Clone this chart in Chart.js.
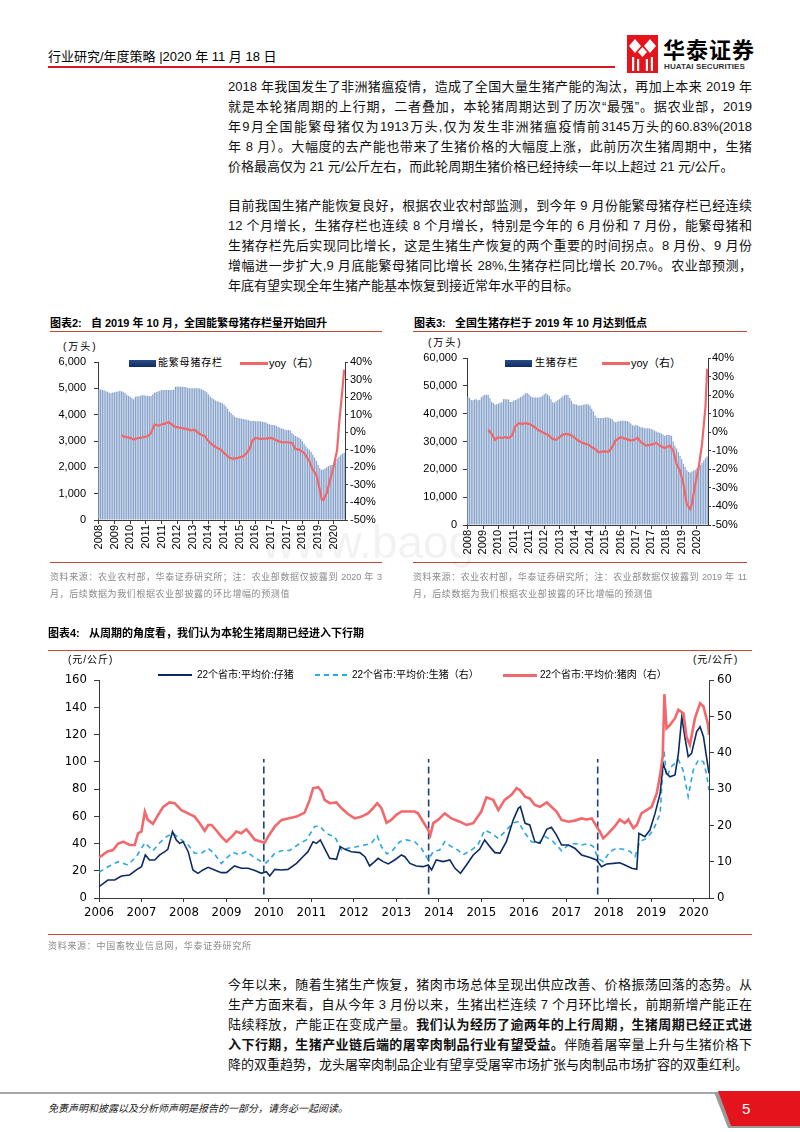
<!DOCTYPE html>
<html><head><meta charset="utf-8">
<script src="https://cdn.jsdelivr.net/npm/chart.js@4/dist/chart.umd.min.js"></script>
<style>
body{margin:0;background:#fff;}
#page{position:relative;width:800px;height:1132px;overflow:hidden;background:#fff;font-family:"Liberation Sans","Noto Sans CJK SC",sans-serif;color:#000;}
.a{position:absolute;white-space:nowrap;}
.ln{position:absolute;left:228px;width:524px;height:20px;line-height:20px;font-size:13px;font-family:"Liberation Sans","Noto Sans CJK SC",sans-serif;text-align:justify;text-align-last:justify;color:#111;}
.ln.last{text-align-last:left;}
.ttl{position:absolute;font-size:11px;font-weight:bold;line-height:14px;font-family:"Liberation Sans","Noto Sans CJK SC",sans-serif;white-space:nowrap;}
.src{position:absolute;font-size:9px;line-height:12px;color:#8a8a8a;font-family:"Liberation Sans","Noto Sans CJK SC",sans-serif;text-align:justify;text-align-last:justify;}
.src.last{text-align-last:left;}
.rule{position:absolute;height:1px;background:#c9453c;}
.leg{position:absolute;font-size:10px;line-height:12px;white-space:nowrap;font-family:"Liberation Sans","Noto Sans CJK SC",sans-serif;}
canvas{position:absolute;}
</style></head>
<body><div id="page">

<!-- header -->
<div class="a" style="left:48px;top:49px;font-size:13px;line-height:16px;font-family:'Liberation Sans','Noto Sans CJK SC';">行业研究/年度策略 |2020 年 11 月 18 日</div>
<div class="a" style="left:48px;top:66px;width:567px;height:2px;background:#d7191f;"></div>
<svg class="a" style="left:627px;top:35px;" width="31" height="38" viewBox="0 0 31 38">
  <rect x="0" y="0" width="31" height="38" fill="#e5131b"/>
  <polygon points="8,4 14,11 8,18 2,11" fill="#fff"/>
  <polygon points="23,4 29,11 23,18 17,11" fill="#fff"/>
  <polygon points="15.5,12 20,17 15.5,22 11,17" fill="#fff"/>
  <rect x="5" y="22" width="2.2" height="14" fill="#fff"/>
  <rect x="10" y="24" width="2.2" height="12" fill="#fff"/>
  <rect x="18.8" y="24" width="2.2" height="12" fill="#fff"/>
  <rect x="23.8" y="22" width="2.2" height="14" fill="#fff"/>
</svg>
<div class="a" style="left:663px;top:36px;font-size:22px;line-height:24px;font-weight:bold;letter-spacing:1px;font-family:'Noto Sans CJK SC';">华泰证券</div>
<div class="a" style="left:664px;top:62px;font-size:8px;line-height:9px;font-weight:bold;color:#333;letter-spacing:0.1px;">HUATAI SECURITIES</div>

<!-- paragraph 1 -->
<div class="ln" style="top:77px;">2018 年我国发生了非洲猪瘟疫情，造成了全国大量生猪产能的淘汰，再加上本来 2019 年</div>
<div class="ln" style="top:97px;">就是本轮猪周期的上行期，二者叠加，本轮猪周期达到了历次“最强”。据农业部，2019</div>
<div class="ln" style="top:117px;">年9月全国能繁母猪仅为1913万头,仅为发生非洲猪瘟疫情前3145万头的60.83%(2018</div>
<div class="ln" style="top:137px;">年 8 月）。大幅度的去产能也带来了生猪价格的大幅度上涨，此前历次生猪周期中，生猪</div>
<div class="ln last" style="top:157px;">价格最高仅为 21 元/公斤左右，而此轮周期生猪价格已经持续一年以上超过 21 元/公斤。</div>

<!-- paragraph 2 -->
<div class="ln" style="top:196px;">目前我国生猪产能恢复良好，根据农业农村部监测，到今年 9 月份能繁母猪存栏已经连续</div>
<div class="ln" style="top:216px;">12 个月增长，生猪存栏也连续 8 个月增长，特别是今年的 6 月份和 7 月份，能繁母猪和</div>
<div class="ln" style="top:236px;">生猪存栏先后实现同比增长，这是生猪生产恢复的两个重要的时间拐点。8 月份、9 月份</div>
<div class="ln" style="top:256px;">增幅进一步扩大,9 月底能繁母猪同比增长 28%,生猪存栏同比增长 20.7%。农业部预测，</div>
<div class="ln last" style="top:276px;">年底有望实现全年生猪产能基本恢复到接近常年水平的目标。</div>

<!-- chart 2 frame -->
<div class="ttl" style="left:50px;top:316px;">图表2:&nbsp;&nbsp; 自 2019 年 10 月，全国能繁母猪存栏量开始回升</div>
<div class="rule" style="left:50px;top:331px;width:332px;"></div>
<div class="leg" style="left:63px;top:341px;letter-spacing:2px;">(万头)</div>
<div class="a" style="left:129px;top:360px;width:27px;height:7px;background:linear-gradient(#2b4c88,#0f2b62);"></div>
<div class="leg" style="left:158px;top:357px;letter-spacing:0.8px;">能繁母猪存栏</div>
<div class="a" style="left:240px;top:362px;width:28px;height:2.5px;background:#f0676b;"></div>
<div class="leg" style="left:269px;top:357px;font-size:11px;">yoy（右）</div>
<canvas id="c2" width="345" height="230" style="left:40px;top:340px;"></canvas>
<div class="rule" style="left:50px;top:562px;width:332px;"></div>
<div class="src" style="left:50px;top:571px;width:332px;">资料来源：农业农村部，华泰证券研究所；注：农业部数据仅披露到 2020 年 3</div>
<div class="src last" style="left:50px;top:588px;width:332px;letter-spacing:0.6px;">月，后续数据为我们根据农业部披露的环比增幅的预测值</div>

<!-- chart 3 frame -->
<div class="ttl" style="left:414px;top:316px;">图表3:&nbsp;&nbsp; 全国生猪存栏于 2019 年 10 月达到低点</div>
<div class="rule" style="left:413px;top:331px;width:334px;"></div>
<div class="leg" style="left:428px;top:337px;letter-spacing:2px;">(万头)</div>
<div class="a" style="left:505px;top:360px;width:27px;height:7px;background:linear-gradient(#2b4c88,#0f2b62);"></div>
<div class="leg" style="left:535px;top:357px;letter-spacing:0.8px;">生猪存栏</div>
<div class="a" style="left:602px;top:362px;width:28px;height:2.5px;background:#f0676b;"></div>
<div class="leg" style="left:631px;top:357px;font-size:11px;">yoy（右）</div>
<canvas id="c3" width="340" height="240" style="left:410px;top:336px;"></canvas>
<div class="rule" style="left:413px;top:562px;width:334px;"></div>
<div class="src" style="left:413px;top:571px;width:334px;">资料来源：农业农村部，华泰证券研究所；注：农业部数据仅披露到 2019 年 11</div>
<div class="src last" style="left:413px;top:588px;width:334px;letter-spacing:0.6px;">月，后续数据为我们根据农业部披露的环比增幅的预测值</div>

<!-- watermark -->
<div class="a" style="left:262px;top:512px;font-size:46px;line-height:60px;color:rgba(0,0,0,0.05);font-family:'Liberation Sans Narrow','Liberation Sans';">www.baogao5.com</div>

<!-- chart 4 frame -->
<div class="ttl" style="left:48px;top:626px;">图表4:&nbsp;&nbsp; 从周期的角度看，我们认为本轮生猪周期已经进入下行期</div>
<div class="rule" style="left:48px;top:650px;width:704px;"></div>
<div class="leg" style="left:68px;top:654px;letter-spacing:1px;">(元/公斤)</div>
<div class="leg" style="left:693px;top:654px;letter-spacing:1px;">(元/公斤)</div>
<div class="a" style="left:158px;top:674px;width:34px;height:2px;background:#0d2b63;"></div>
<div class="leg" style="left:197px;top:669px;">22个省市:平均价:仔猪</div>
<svg class="a" style="left:315px;top:673px;" width="32" height="4"><line x1="0" y1="2" x2="32" y2="2" stroke="#2ba7e1" stroke-width="2" stroke-dasharray="5,4"/></svg>
<div class="leg" style="left:352px;top:669px;">22个省市:平均价:生猪（右）</div>
<div class="a" style="left:503px;top:673.5px;width:34px;height:3px;background:#f2686c;"></div>
<div class="leg" style="left:540px;top:669px;">22个省市:平均价:猪肉（右）</div>
<canvas id="c4" width="720" height="265" style="left:40px;top:665px;"></canvas>
<div class="rule" style="left:48px;top:934px;width:704px;"></div>
<div class="a" style="left:48px;top:940px;font-size:9px;line-height:12px;color:#8a8a8a;letter-spacing:0.7px;">资料来源：中国畜牧业信息网，华泰证券研究所</div>

<!-- paragraph 3 -->
<div class="ln" style="top:975px;">今年以来，随着生猪生产恢复，猪肉市场总体呈现出供应改善、价格振荡回落的态势。从</div>
<div class="ln" style="top:995px;">生产方面来看，自从今年 3 月份以来，生猪出栏连续 7 个月环比增长，前期新增产能正在</div>
<div class="ln" style="top:1015px;">陆续释放，产能正在变成产量。<b>我们认为经历了逾两年的上行周期，生猪周期已经正式进</b></div>
<div class="ln" style="top:1035px;"><b>入下行期，生猪产业链后端的屠宰肉制品行业有望受益。</b>伴随着屠宰量上升与生猪价格下</div>
<div class="ln last" style="top:1055px;">降的双重趋势，龙头屠宰肉制品企业有望享受屠宰市场扩张与肉制品市场扩容的双重红利。</div>

<!-- footer -->
<svg class="a" style="left:0;top:1088px;" width="800" height="44">
  <rect x="0" y="4" width="722" height="2" fill="#a7a7a7"/>
  <polygon points="714,4 800,4 800,40 728,40" fill="#9a9a9a"/>
  <polygon points="718,3 800,3 800,38 731,38" fill="#e3141c"/>
</svg>
<div class="a" style="left:48px;top:1102px;font-size:10px;line-height:13px;font-style:italic;color:#222;">免责声明和披露以及分析师声明是报告的一部分，请务必一起阅读。</div>
<div class="a" style="left:742px;top:1100px;font-size:15px;line-height:18px;color:#fff;">5</div>

</div>
<script>
// ---------- Chart 2: 能繁母猪存栏 (万头), monthly from 2008-12 ----------
const sowAxisYears = ['2008','2009','2010','2011','2011','2012','2013','2014','2014','2015','2016','2017','2017','2018','2019','2020'];
const sowStock = [4960,4960,4940,4930,4890,4870,4830,4810,4840,4850,
4870,4880,4900,4890,4870,4820,4760,4720,4680,4630,
4590,4680,4700,4690,4720,4740,4740,4720,4720,4700,
4710,4780,4830,4860,4880,4910,4930,4940,4940,4940,
4940,4940,4940,4950,5060,5070,5070,5060,5060,5050,
5050,5010,5000,5000,5000,5000,5000,5000,4990,4960,
4940,4900,4850,4770,4680,4630,4590,4540,4510,4490,
4460,4430,4390,4310,4220,4120,4060,3990,3930,3890,
3870,3860,3850,3840,3830,3810,3790,3770,3760,3760,
3750,3750,3750,3750,3730,3720,3700,3660,3640,3620,
3610,3600,3580,3530,3500,3480,3460,3430,3420,3420,
3400,3300,3250,3190,3160,3120,3080,3000,2900,2800,
2720,2670,2590,2480,2370,2250,2100,1970,1900,1913,
1960,2000,2050,2080,2100,2160,2230,2330,2400,2460,
2510,2550];
// [month index, yoy %]
const sowYoy = [[13,-1.7],[15,-2.7],[18,-3.2],[20,-4.2],[22,-3.4],[25,-2.9],[28,-2.3],[30,-0.4],[32,4.4],[34,3.8],[36,4.4],[38,4.9],[40,5.7],[42,4.4],[44,3.0],[47,2.5],[50,1.9],[53,1.1],[55,1.5],[58,-1.0],[61,-2.3],[62,-3.8],[64,-6.1],[67,-8.4],[70,-9.9],[73,-12.7],[75,-14.6],[77,-15.2],[80,-14.6],[83,-13.7],[85,-11.8],[87,-8.9],[88,-5.1],[90,-3.2],[93,-3.8],[96,-3.6],[99,-3.2],[102,-4.6],[105,-5.7],[108,-5.7],[111,-6.1],[113,-9.5],[115,-9.9],[118,-11.8],[121,-16.5],[123,-21.3],[125,-24.1],[127,-32.7],[128,-38.0],[129,-38.8],[131,-34.6],[133,-27.0],[135,-19.4],[137,-9.9],[138,3.4],[140,24.3],[141,35.7]];

// ---------- Chart 3: 生猪存栏 (万头), monthly from 2008-12 ----------
const hogAxisYears = ['2008','2009','2010','2011','2011','2012','2013','2014','2014','2015','2016','2017','2017','2018','2019','2020'];
const hogStock = [46100,45700,44900,44800,45100,45200,44800,45000,45900,46500,
46800,46800,46800,45500,44300,43800,43300,43400,43600,43900,
44100,45200,45300,45200,45100,44200,44300,44600,44900,45200,
45500,45900,46300,46900,47300,47400,47000,46300,45900,45800,
45800,45800,45900,46000,46400,47000,47300,46900,46300,45200,
44100,44000,44500,44800,45200,45700,46300,46600,46800,46700,
45600,44600,43600,43400,43300,42900,42900,43000,43200,43400,
43400,43300,42800,41800,40800,39300,38600,38500,38400,38400,
38400,38600,38700,38500,38300,38100,37300,36900,37100,37300,
37400,37500,37500,37400,37400,37000,36500,35800,35700,35900,
35700,35400,35100,35000,34800,34800,34800,34700,34500,34200,
33900,33600,33300,33100,32900,32500,32100,32300,32400,32300,
32000,30000,28500,27500,26200,24800,23600,22000,20800,19700,
19100,18900,19200,19500,19800,20400,21000,21600,22300,23200,
24000,24600];
const hogYoy = [[12,1.3],[14,-0.9],[16,-4.1],[18,-2.7],[20,-3.1],[22,-2.7],[24,-3.1],[26,-1.8],[28,3.1],[30,4.9],[32,4.5],[34,4.9],[36,4.5],[38,3.6],[40,2.3],[42,0.9],[44,0],[47,-1.3],[50,-3.6],[52,-4.1],[54,-2.7],[56,-1.3],[58,-0.9],[60,-1.3],[62,-2.3],[65,-4.5],[68,-5.9],[71,-6.7],[73,-8.1],[75,-9.0],[77,-10.8],[80,-10.3],[83,-10.5],[85,-8.1],[87,-4.5],[90,-2.7],[93,-3.6],[96,-4.5],[98,-4.1],[100,-3.1],[102,-5.4],[105,-7.2],[108,-6.7],[111,-5.9],[114,-7.7],[116,-8.5],[119,-7.2],[121,-9.9],[123,-17.1],[125,-20.7],[127,-27.9],[129,-38.7],[131,-41.4],[132,-38.7],[134,-27.9],[136,-18.9],[138,-6.3],[140,13.5],[141,34.2]];

// ---------- Chart 4: 22个省市平均价 [year, price] ----------
const yearTicks = [2006,2007,2008,2009,2010,2011,2012,2013,2014,2015,2016,2017,2018,2019,2020];
const cycleTurns = [2009.88, 2013.76, 2017.74];
const piglet = [[2006.0,8.3],[2006.21,13.2],[2006.37,13.2],[2006.53,16.1],[2006.72,16.9],[2006.88,20.6],[2007.0,23],[2007.09,31.6],[2007.19,27.9],[2007.31,27.9],[2007.43,31.6],[2007.55,34],[2007.62,35.7],[2007.73,48.7],[2007.82,42.6],[2007.9,40.1],[2007.98,41.3],[2008.1,34],[2008.21,20.6],[2008.33,18.1],[2008.45,20.6],[2008.57,22.5],[2008.72,20.6],[2008.88,18.6],[2009.0,18.6],[2009.19,23.5],[2009.35,21.8],[2009.51,21.8],[2009.67,20.1],[2009.82,18.1],[2009.94,19.3],[2010.02,16.1],[2010.14,21],[2010.29,20.6],[2010.45,21],[2010.65,25.4],[2010.8,30.3],[2010.92,34],[2011.04,41.3],[2011.12,40.1],[2011.21,42.6],[2011.31,36.5],[2011.43,29.1],[2011.59,28.4],[2011.68,37.7],[2011.79,35.7],[2011.94,34],[2012.14,33.3],[2012.26,30.3],[2012.37,23.5],[2012.49,26.7],[2012.57,29.1],[2012.69,26.7],[2012.81,25],[2012.96,27.9],[2013.12,31.6],[2013.2,30.3],[2013.32,25.4],[2013.47,23.5],[2013.63,23],[2013.75,24.2],[2013.83,20.6],[2013.94,27.9],[2014.1,26.7],[2014.26,27.9],[2014.38,21.8],[2014.51,18.1],[2014.65,24.2],[2014.81,31.6],[2014.96,35.7],[2015.08,42.6],[2015.2,37.7],[2015.32,33.3],[2015.44,33],[2015.59,41.3],[2015.75,57.2],[2015.87,65.8],[2015.92,67],[2016.03,54.8],[2016.14,53.6],[2016.26,41.3],[2016.38,40.1],[2016.54,50.4],[2016.65,51.9],[2016.77,46.2],[2016.89,38.9],[2017.05,38.9],[2017.2,36.5],[2017.36,31.6],[2017.56,29.8],[2017.71,27.9],[2017.83,23],[2017.95,25],[2018.11,25.4],[2018.26,25.9],[2018.38,24.2],[2018.54,21.8],[2018.66,21],[2018.71,47.5],[2018.85,45],[2018.97,49.9],[2019.09,62.1],[2019.21,76.8],[2019.28,98.8],[2019.36,91.5],[2019.44,89],[2019.56,90.3],[2019.64,106.2],[2019.72,133.1],[2019.79,118.4],[2019.87,103.7],[2019.95,106.2],[2020.07,122.1],[2020.15,125.7],[2020.23,118.4],[2020.3,103.7],[2020.36,91.5]];
const liveHog = [[2006.0,7.1],[2006.21,8.6],[2006.45,10.0],[2006.68,9.1],[2006.88,11.4],[2007.08,15.2],[2007.27,13.0],[2007.43,15.2],[2007.59,16.9],[2007.74,17.8],[2007.94,16.0],[2008.1,14.6],[2008.25,12.3],[2008.41,12.3],[2008.57,13.7],[2008.72,12.1],[2008.88,9.5],[2009.04,11.4],[2009.16,12.5],[2009.31,11.9],[2009.47,12.8],[2009.63,11.4],[2009.82,10.0],[2009.94,9.7],[2010.14,12.3],[2010.29,13.0],[2010.49,13.1],[2010.73,15.0],[2010.88,16.0],[2011.08,19.7],[2011.2,19.8],[2011.31,18.3],[2011.43,17.3],[2011.55,16.9],[2011.71,13.2],[2011.86,13.7],[2012.06,14.1],[2012.26,14.6],[2012.41,15.0],[2012.55,17.1],[2012.65,14.1],[2012.78,12.1],[2012.92,13.2],[2013.08,15.5],[2013.24,16.0],[2013.43,15.5],[2013.59,13.7],[2013.75,10.5],[2013.87,12.8],[2014.02,13.2],[2014.14,15.5],[2014.3,14.1],[2014.45,13.2],[2014.57,11.9],[2014.77,13.2],[2014.92,14.6],[2015.08,18.7],[2015.24,17.8],[2015.4,16.4],[2015.59,18.7],[2015.75,20.7],[2015.87,21.0],[2016.03,17.8],[2016.18,15.5],[2016.34,15.0],[2016.5,16.9],[2016.65,16.0],[2016.77,14.6],[2016.89,13.0],[2017.05,14.6],[2017.2,15.0],[2017.36,14.6],[2017.52,15.0],[2017.64,14.1],[2017.75,10.9],[2017.87,10.0],[2018.03,12.8],[2018.18,13.7],[2018.34,13.4],[2018.5,12.8],[2018.62,11.4],[2018.73,15.5],[2018.89,16.4],[2019.05,18.7],[2019.21,23.3],[2019.3,40.7],[2019.36,33.4],[2019.48,36.2],[2019.64,38.0],[2019.75,35.2],[2019.87,27.9],[2019.99,35.2],[2020.11,38.0],[2020.23,37.5],[2020.3,34.3],[2020.36,29.7]];
const pork = [[2006.0,11.1],[2006.2,12.8],[2006.33,13.2],[2006.45,15.0],[2006.57,15.5],[2006.72,14.6],[2006.84,14.6],[2006.92,17.8],[2007.0,18.3],[2007.08,23.8],[2007.15,21.5],[2007.27,20.4],[2007.39,22.8],[2007.51,25.1],[2007.66,26.3],[2007.78,26.1],[2007.94,24.2],[2008.13,23.1],[2008.25,22.4],[2008.37,20.6],[2008.49,18.5],[2008.57,20.1],[2008.65,20.1],[2008.72,19.2],[2008.88,16.9],[2009.0,15.5],[2009.16,17.3],[2009.23,18.3],[2009.35,17.8],[2009.47,18.9],[2009.55,17.8],[2009.67,16.0],[2009.82,15.5],[2009.9,15.2],[2009.98,16.9],[2010.14,19.7],[2010.3,21.5],[2010.45,21.9],[2010.65,22.4],[2010.84,23.5],[2010.96,27.0],[2011.04,30.2],[2011.16,30.5],[2011.24,29.4],[2011.31,27.0],[2011.43,26.1],[2011.59,26.3],[2011.71,24.7],[2011.86,23.1],[2012.02,21.9],[2012.18,22.4],[2012.33,23.3],[2012.45,24.7],[2012.55,26.1],[2012.65,24.7],[2012.77,20.7],[2012.88,21.5],[2013.0,22.9],[2013.12,23.8],[2013.28,23.8],[2013.43,23.8],[2013.51,23.3],[2013.63,21.0],[2013.75,18.7],[2013.8,17.3],[2013.87,20.6],[2013.98,21.5],[2014.14,23.3],[2014.3,21.9],[2014.49,21.0],[2014.65,20.1],[2014.81,20.6],[2015.0,23.8],[2015.12,27.7],[2015.28,27.0],[2015.4,24.2],[2015.55,27.0],[2015.71,28.4],[2015.83,30.2],[2015.91,29.7],[2016.03,27.9],[2016.14,27.4],[2016.26,25.6],[2016.38,25.1],[2016.54,26.3],[2016.65,25.1],[2016.77,23.8],[2016.89,21.5],[2017.05,21.0],[2017.2,21.3],[2017.36,21.9],[2017.48,21.6],[2017.6,21.9],[2017.71,19.7],[2017.79,18.3],[2017.87,16.4],[2017.99,17.8],[2018.14,19.7],[2018.26,21.6],[2018.38,20.6],[2018.46,21.6],[2018.58,19.2],[2018.66,20.1],[2018.77,23.3],[2018.89,24.2],[2019.01,25.1],[2019.13,28.8],[2019.21,33.9],[2019.27,38.9],[2019.31,56.1],[2019.36,46.7],[2019.44,47.6],[2019.56,49.5],[2019.64,51.8],[2019.76,50.8],[2019.83,44.4],[2019.91,42.1],[2020.03,49.5],[2020.15,53.6],[2020.23,52.7],[2020.34,47.6],[2020.36,44.9]];

Chart.defaults.font.family = "'Liberation Sans', Arial, sans-serif";
Chart.defaults.color = '#000';
Chart.defaults.animation = false;
const AX = '#3a3a3a';
const fixW = w => s => { s.width = w; };
const fixH = h => s => { s.height = h; };

function stockChart(id, bars, yoyPairs, axisYears, leftMax, leftStep, g) {
  const labels = bars.map((_, i) => { const m = 11 + i; return (2008 + Math.floor(m / 12)) + '-' + String(m % 12 + 1).padStart(2, '0'); });
  const yoy = bars.map(() => null);
  yoyPairs.forEach(([i, v]) => { yoy[i] = v; });
  new Chart(document.getElementById(id), {
    type: 'bar',
    data: { labels, datasets: [
      { type: 'line', data: yoy, yAxisID: 'y1', borderColor: '#f0676b', borderWidth: 2.2, pointRadius: 0, spanGaps: true, tension: 0 },
      { type: 'bar', data: bars, yAxisID: 'y', backgroundColor: '#87a3cb', barPercentage: 0.72, categoryPercentage: 1 }
    ]},
    options: {
      responsive: false, animation: false,
      layout: { padding: { top: g.top, left: 0, right: 0, bottom: 0 } },
      plugins: { legend: { display: false }, tooltip: { enabled: false } },
      scales: {
        x: { offset: true,
             grid: { display: true, drawOnChartArea: false, drawTicks: true, tickLength: 4, color: AX, offset: false },
             border: { display: true, color: AX },
             ticks: { autoSkip: false, minRotation: 90, maxRotation: 90, padding: 1, font: { size: 11 },
                      callback: (v, i) => (i % 9 === 0 ? axisYears[i / 9] : null) },
             afterFit: fixH(g.xh) },
        y: { position: 'left', min: 0, max: leftMax,
             ticks: { stepSize: leftStep, padding: g.lp, font: { size: 11 }, callback: v => v.toLocaleString('en-US') },
             grid: { drawOnChartArea: false, tickLength: 4, color: AX }, border: { color: AX },
             afterFit: fixW(g.lw) },
        y1: { position: 'right', min: -50, max: 40,
             ticks: { stepSize: 10, padding: g.rp, font: { size: 11 }, callback: v => v + '%' },
             grid: { drawOnChartArea: false, tickLength: 3, color: AX }, border: { color: AX },
             afterFit: fixW(g.rw) }
      }
    }
  });
}

stockChart('c2', sowStock, sowYoy, sowAxisYears, 6000, 1000, { top: 22, xh: 50, lw: 58, rw: 40, lp: 8, rp: 2 });
stockChart('c3', hogStock, hogYoy, hogAxisYears, 60000, 10000, { top: 22, xh: 51, lw: 57, rw: 42, lp: 6, rp: 1 });

// ---------- Chart 4 ----------
const pts = arr => arr.map(([x, y]) => ({ x, y }));
const narrow = "'Liberation Sans Narrow', 'DejaVu Sans Condensed', 'Liberation Sans', sans-serif";
new Chart(document.getElementById('c4'), {
  type: 'line',
  data: { datasets: [
    { data: pts(pork), yAxisID: 'y1', borderColor: '#f2686c', borderWidth: 2.6, pointRadius: 0, tension: 0 },
    { data: pts(piglet), yAxisID: 'y', borderColor: '#0d2b63', borderWidth: 1.6, pointRadius: 0, tension: 0 },
    { data: pts(liveHog), yAxisID: 'y1', borderColor: '#2ba7e1', borderWidth: 1.6, borderDash: [5, 4], pointRadius: 0, tension: 0 },
    ...cycleTurns.map(t => ({ data: [{ x: t, y: 2.5 }, { x: t, y: 102 }], yAxisID: 'y', borderColor: '#1f3f78', borderWidth: 1.6, borderDash: [7, 4], pointRadius: 0 }))
  ]},
  options: {
    responsive: false, animation: false,
    layout: { padding: { top: 15, left: 0, right: 0, bottom: 0 } },
    plugins: { legend: { display: false }, tooltip: { enabled: false } },
    scales: {
      x: { type: 'linear', min: 2006, max: 2020.36,
           afterBuildTicks: s => { s.ticks = yearTicks.map(v => ({ value: v })); },
           ticks: { autoSkip: false, maxRotation: 0, padding: 3, font: { family: narrow, size: 13 }, callback: v => String(v) },
           grid: { drawOnChartArea: false, tickLength: 4, color: AX }, border: { color: AX },
           afterFit: fixH(32) },
      y: { position: 'left', min: 0, max: 160,
           ticks: { stepSize: 20, padding: 7, font: { family: narrow, size: 13 } },
           grid: { drawOnChartArea: false, tickLength: 5, color: AX }, border: { color: AX },
           afterFit: fixW(59) },
      y1: { position: 'right', min: 0, max: 60,
           ticks: { stepSize: 10, padding: 3, font: { family: narrow, size: 13 } },
           grid: { drawOnChartArea: false, tickLength: 5, color: AX }, border: { color: AX },
           afterFit: fixW(51) }
    }
  }
});
</script>
</body></html>
